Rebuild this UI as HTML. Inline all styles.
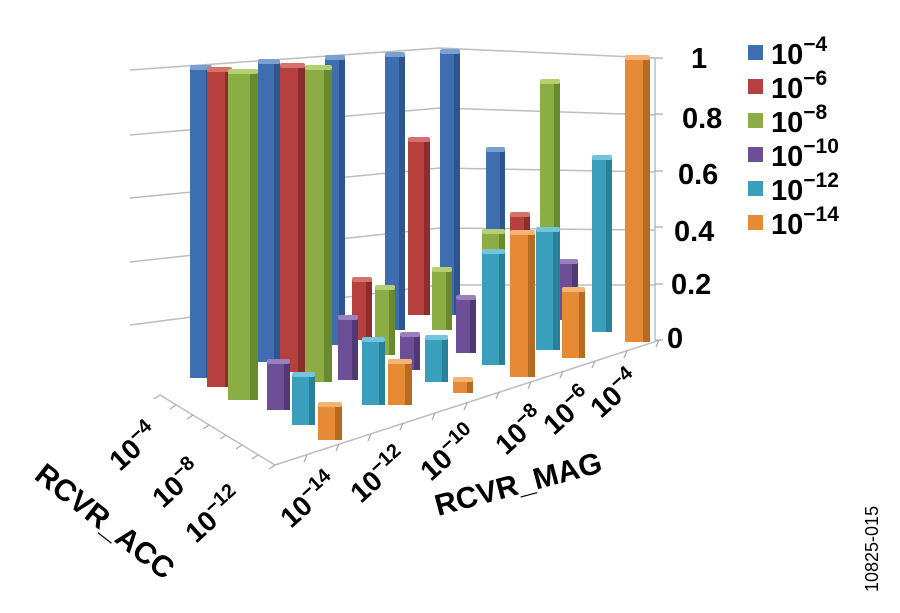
<!DOCTYPE html>
<html><head><meta charset="utf-8"><style>
html,body{margin:0;padding:0;background:#fff;}
svg{display:block;font-family:"Liberation Sans",Arial,sans-serif;font-weight:bold;}
.b0{fill:#3f6eb0}.b1{fill:#2d5590}.b2{fill:#7a9fd3}
.r0{fill:#b5403d}.r1{fill:#8c2e2c}.r2{fill:#d6726e}
.g0{fill:#8cad43}.g1{fill:#6a8a2e}.g2{fill:#b5d072}
.p0{fill:#6d4f97}.p1{fill:#513975}.p2{fill:#9a80bd}
.t0{fill:#3a9fbd}.t1{fill:#2a7f99}.t2{fill:#74c5dc}
.o0{fill:#e68a35}.o1{fill:#b86a22}.o2{fill:#f4b476}
</style></head><body>
<svg width="900" height="613" viewBox="0 0 900 613" xmlns="http://www.w3.org/2000/svg">
<g fill="none" stroke="#bdbdbd" stroke-width="1.5">
<polyline points="130,70 440,48 655,58"/>
<polyline points="130,135 440,108 655,115"/>
<polyline points="130,198 440,168 655,172"/>
<polyline points="130,262 440,228 655,230"/>
<polyline points="130,325 440,285 655,285"/>
<polyline points="655,58 655,340"/>
<polyline points="160,395 275,465 660,340"/>
</g>
<path fill="none" stroke="#aaa" stroke-width="1.2" d="M160 395l-6 4M176 405l-6 4M193 415l-6 4M209 425l-6 4M226 435l-6 4M242 445l-6 4M258 455l-6 4M275 465l-6 4M307 455l-3 7M339 444l-3 7M371 434l-3 7M403 423l-3 7M435 413l-3 7M467 403l-3 7M499 392l-3 7M531 382l-3 7M563 371l-3 7M595 361l-3 7M627 351l-3 7M659 340l-3 7M655 58h8M655 114h8M655 171h8M655 227h8M655 284h8M655 340h8"/>
<g>
<rect class="b0" x="440" y="52" width="14" height="263"/><rect class="b1" x="454" y="53" width="6" height="262"/><rect class="b2" x="440" y="49" width="20" height="5" rx="2"/>
<rect class="b0" x="385" y="55" width="14" height="275"/><rect class="b1" x="399" y="56" width="6" height="274"/><rect class="b2" x="385" y="52" width="20" height="5" rx="2"/>
<rect class="b0" x="325" y="58" width="14" height="287"/><rect class="b1" x="339" y="59" width="6" height="286"/><rect class="b2" x="325" y="55" width="20" height="5" rx="2"/>
<rect class="g0" x="540" y="82" width="14" height="218"/><rect class="g1" x="554" y="83" width="6" height="217"/><rect class="g2" x="540" y="79" width="20" height="5" rx="2"/>
<rect class="b0" x="486" y="150" width="14" height="150"/><rect class="b1" x="500" y="151" width="5" height="149"/><rect class="b2" x="486" y="147" width="19" height="5" rx="2"/>
<rect class="r0" x="408" y="140" width="16" height="175"/><rect class="r1" x="424" y="141" width="6" height="174"/><rect class="r2" x="408" y="137" width="22" height="5" rx="2"/>
<rect class="t0" x="592" y="158" width="14" height="174"/><rect class="t1" x="606" y="159" width="6" height="173"/><rect class="t2" x="592" y="155" width="20" height="5" rx="2"/>
<rect class="o0" x="625" y="58" width="18" height="284"/><rect class="o1" x="643" y="59" width="7" height="283"/><rect class="o2" x="625" y="55" width="25" height="5" rx="2"/>
<rect class="p0" x="558" y="262" width="14" height="58"/><rect class="p1" x="572" y="263" width="6" height="57"/><rect class="p2" x="558" y="259" width="20" height="5" rx="2"/>
<rect class="r0" x="510" y="215" width="14" height="115"/><rect class="r1" x="524" y="216" width="6" height="114"/><rect class="r2" x="510" y="212" width="20" height="5" rx="2"/>
<rect class="g0" x="432" y="270" width="14" height="60"/><rect class="g1" x="446" y="271" width="6" height="59"/><rect class="g2" x="432" y="267" width="20" height="5" rx="2"/>
<rect class="r0" x="352" y="280" width="14" height="60"/><rect class="r1" x="366" y="281" width="6" height="59"/><rect class="r2" x="352" y="277" width="20" height="5" rx="2"/>
<rect class="b0" x="258" y="62" width="16" height="300"/><rect class="b1" x="274" y="63" width="6" height="299"/><rect class="b2" x="258" y="59" width="22" height="5" rx="2"/>
<rect class="g0" x="482" y="232" width="17" height="128"/><rect class="g1" x="499" y="233" width="6" height="127"/><rect class="g2" x="482" y="229" width="23" height="5" rx="2"/>
<rect class="t0" x="536" y="230" width="17" height="120"/><rect class="t1" x="553" y="231" width="7" height="119"/><rect class="t2" x="536" y="227" width="24" height="5" rx="2"/>
<rect class="p0" x="456" y="298" width="14" height="55"/><rect class="p1" x="470" y="299" width="6" height="54"/><rect class="p2" x="456" y="295" width="20" height="5" rx="2"/>
<rect class="g0" x="375" y="288" width="14" height="67"/><rect class="g1" x="389" y="289" width="6" height="66"/><rect class="g2" x="375" y="285" width="20" height="5" rx="2"/>
<rect class="o0" x="562" y="290" width="17" height="68"/><rect class="o1" x="579" y="291" width="6" height="67"/><rect class="o2" x="562" y="287" width="23" height="5" rx="2"/>
<rect class="r0" x="280" y="66" width="18" height="306"/><rect class="r1" x="298" y="67" width="7" height="305"/><rect class="r2" x="280" y="63" width="25" height="5" rx="2"/>
<rect class="t0" x="482" y="252" width="17" height="113"/><rect class="t1" x="499" y="253" width="6" height="112"/><rect class="t2" x="482" y="249" width="23" height="5" rx="2"/>
<rect class="p0" x="400" y="335" width="14" height="35"/><rect class="p1" x="414" y="336" width="6" height="34"/><rect class="p2" x="400" y="332" width="20" height="5" rx="2"/>
<rect class="b0" x="190" y="68" width="16" height="310"/><rect class="b1" x="206" y="69" width="6" height="309"/><rect class="b2" x="190" y="65" width="22" height="5" rx="2"/>
<rect class="o0" x="510" y="233" width="18" height="144"/><rect class="o1" x="528" y="234" width="7" height="143"/><rect class="o2" x="510" y="230" width="25" height="5" rx="2"/>
<rect class="p0" x="338" y="318" width="14" height="62"/><rect class="p1" x="352" y="319" width="6" height="61"/><rect class="p2" x="338" y="315" width="20" height="5" rx="2"/>
<rect class="g0" x="305" y="68" width="19" height="314"/><rect class="g1" x="324" y="69" width="8" height="313"/><rect class="g2" x="305" y="65" width="27" height="5" rx="2"/>
<rect class="t0" x="425" y="338" width="17" height="44"/><rect class="t1" x="442" y="339" width="6" height="43"/><rect class="t2" x="425" y="335" width="23" height="5" rx="2"/>
<rect class="r0" x="207" y="70" width="18" height="317"/><rect class="r1" x="225" y="71" width="7" height="316"/><rect class="r2" x="207" y="67" width="25" height="5" rx="2"/>
<rect class="o0" x="453" y="380" width="14" height="13"/><rect class="o1" x="467" y="381" width="6" height="12"/><rect class="o2" x="453" y="377" width="20" height="5" rx="2"/>
<rect class="g0" x="228" y="72" width="22" height="328"/><rect class="g1" x="250" y="73" width="8" height="327"/><rect class="g2" x="228" y="69" width="30" height="5" rx="2"/>
<rect class="t0" x="362" y="340" width="17" height="65"/><rect class="t1" x="379" y="341" width="6" height="64"/><rect class="t2" x="362" y="337" width="23" height="5" rx="2"/>
<rect class="o0" x="388" y="362" width="17" height="43"/><rect class="o1" x="405" y="363" width="7" height="42"/><rect class="o2" x="388" y="359" width="24" height="5" rx="2"/>
<rect class="p0" x="267" y="362" width="17" height="48"/><rect class="p1" x="284" y="363" width="6" height="47"/><rect class="p2" x="267" y="359" width="23" height="5" rx="2"/>
<rect class="t0" x="292" y="375" width="17" height="50"/><rect class="t1" x="309" y="376" width="6" height="49"/><rect class="t2" x="292" y="372" width="23" height="5" rx="2"/>
<rect class="o0" x="318" y="405" width="17" height="35"/><rect class="o1" x="335" y="406" width="7" height="34"/><rect class="o2" x="318" y="402" width="24" height="5" rx="2"/>
</g>
<g font-size="29" fill="#000">
<text x="691" y="68">1</text>
<text x="682" y="128">0.8</text>
<text x="678" y="184">0.6</text>
<text x="674" y="241">0.4</text>
<text x="671" y="294">0.2</text>
<text x="667" y="348">0</text>
</g>
<g font-size="29" fill="#000">
<rect x="748" y="45" width="15" height="15" class="b0"/><text x="771" y="64">10<tspan font-size="21" dy="-13">−4</tspan></text>
<rect x="748" y="79" width="15" height="15" class="r0"/><text x="771" y="98">10<tspan font-size="21" dy="-13">−6</tspan></text>
<rect x="748" y="113" width="15" height="15" class="g0"/><text x="771" y="132">10<tspan font-size="21" dy="-13">−8</tspan></text>
<rect x="748" y="147" width="15" height="15" class="p0"/><text x="771" y="166">10<tspan font-size="21" dy="-13">−10</tspan></text>
<rect x="748" y="181" width="15" height="15" class="t0"/><text x="771" y="200">10<tspan font-size="21" dy="-13">−12</tspan></text>
<rect x="748" y="215" width="15" height="15" class="o0"/><text x="771" y="234">10<tspan font-size="21" dy="-13">−14</tspan></text>
</g>
<g font-size="28" fill="#000">
<g transform="translate(120,472) rotate(-42)"><text>10<tspan font-size="20" dy="-11">−4</tspan></text></g>
<g transform="translate(163,509) rotate(-42)"><text>10<tspan font-size="20" dy="-11">−8</tspan></text></g>
<g transform="translate(196,544) rotate(-42)"><text>10<tspan font-size="20" dy="-11">−12</tspan></text></g>
<g transform="translate(291,529) rotate(-42)"><text>10<tspan font-size="20" dy="-11">−14</tspan></text></g>
<g transform="translate(361,504) rotate(-42)"><text>10<tspan font-size="20" dy="-11">−12</tspan></text></g>
<g transform="translate(431,482) rotate(-42)"><text>10<tspan font-size="20" dy="-11">−10</tspan></text></g>
<g transform="translate(506,456) rotate(-42)"><text>10<tspan font-size="20" dy="-11">−8</tspan></text></g>
<g transform="translate(554,436) rotate(-42)"><text>10<tspan font-size="20" dy="-11">−6</tspan></text></g>
<g transform="translate(601,419) rotate(-42)"><text>10<tspan font-size="20" dy="-11">−4</tspan></text></g>
<g transform="translate(33,478) rotate(38)"><text font-size="30">RCVR_ACC</text></g>
<text x="438" y="516" font-size="30" transform="rotate(-15 438 516)">RCVR_MAG</text>
<g transform="translate(878,592) rotate(-90)"><text font-size="18" font-weight="normal">10825-015</text></g>
</g>
</svg>
</body></html>
